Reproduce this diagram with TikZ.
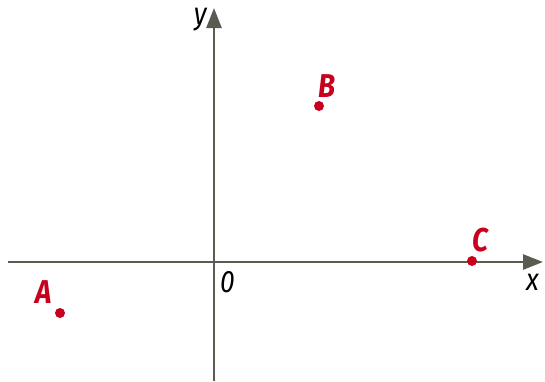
\documentclass[tikz,border=0pt]{standalone}
\usepackage{fontspec}
\setmainfont{Fira Sans}[FakeStretch=0.85]
\usetikzlibrary{arrows.meta,positioning}
\definecolor{axisgray}{RGB}{90,92,82}
\definecolor{ptred}{RGB}{200,0,30}

\begin{document}
\begin{tikzpicture}[
    x=1pt, y=1pt,
    axis/.style={draw=axisgray, line width=2.5pt, -{Triangle[length=20pt,width=15pt]}},
    dot/.style={circle, fill=ptred, inner sep=0pt, minimum size=10pt},
    ptlabel/.style={text=ptred, font=\fontsize{33}{36}\selectfont\bfseries\itshape, inner sep=0pt},
    axlabel/.style={font=\fontsize{31}{34}\selectfont\itshape, inner sep=0pt}
]
\useasboundingbox (-214,-119) rectangle (331,262);

\coordinate (origin) at (0,0);
\coordinate (xmin) at (-206,0);
\coordinate (xmax) at (329,0);
\coordinate (ymin) at (0,-119);
\coordinate (ymax) at (0,254);

% Axes
\draw[axis] (xmin) -- (xmax);
\draw[axis] (ymin) -- (ymax);
\node[axlabel, below left=12pt and 4pt of xmax] (xlabel) {x};
\node[axlabel, below left=0pt and 7pt of ymax] (ylabel) {y};
\node[axlabel, below right=9pt and 6pt of origin] (olabel) {0};

% Points
\node[dot] (A) at (-154,-51) {};
\node[dot] (B) at (105,156) {};
\node[dot] (C) at (258,1) {};
\node[ptlabel, above=4pt of A, xshift=-16pt] (Alabel) {A};
\node[ptlabel, above=3pt of B, xshift=8pt] (Blabel) {B};
\node[ptlabel, above=4pt of C, xshift=8pt] (Clabel) {C};

\end{tikzpicture}
\end{document}
